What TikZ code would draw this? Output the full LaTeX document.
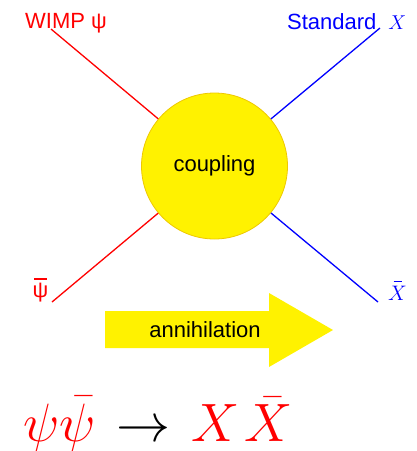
\RequirePackage{fix-cm}
\documentclass[tikz,border=0pt]{standalone}
\usepackage[no-math]{fontspec}
\newfontfamily\hv{Liberation Sans}
\definecolor{gold}{RGB}{238,200,0}
\newcommand\barover[3]{\vbox{\offinterlineskip\halign{\hss##\hss\cr\rule{#1}{#2}\cr\noalign{\kern4pt}#3\cr}}}
\tikzset{
  redline/.style={draw=red, line width=1.3pt},
  blueline/.style={draw=blue, line width=1.3pt},
  lbl/.style={inner sep=0pt, font=\hv\fontsize{22}{26}\selectfont},
}
\begin{document}
\begin{tikzpicture}[x=1pt,y=-1pt]
\useasboundingbox (0,0) rectangle (417,451);
\coordinate (c) at (214.5,166);
\coordinate (ul) at (51,29);
\coordinate (ll) at (52,302);
\coordinate (ur) at (380,28);
\coordinate (lr) at (378,302);
\draw[redline] (ul) -- (c);
\draw[redline] (ll) -- (c);
\draw[blueline] (ur) -- (c);
\draw[blueline] (lr) -- (c);
\node[circle, fill=yellow, draw=gold, line width=0.8pt, minimum size=146pt, inner sep=0pt, font=\hv\fontsize{22}{26}\selectfont] (coup) at (c) {coupling};
\node[lbl, text=red, anchor=base west] (wimp) at (25,28) {WIMP ψ};
\node[lbl, text=blue, anchor=base west] (std) at (287,29.5) {Standard\hspace{12pt}\fontsize{20}{22}\selectfont$X$};
\node[lbl, text=red] (psibar) at (40.5,290) {\barover{13pt}{2pt}{ψ}};
\node[lbl, text=blue, font=\fontsize{21}{24}\selectfont] (xbar) at (397.5,291) {\barover{8pt}{1.3pt}{$X$}};
\fill[yellow] (105,311) -- (269,311) -- (269,293) -- (333,330) -- (269,367) -- (269,348) -- (105,348) -- cycle;
\node[lbl] (ann) at (205,330) {annihilation};
\node[inner sep=0pt, anchor=base west, font=\fontsize{54}{60}\selectfont] (eq) at (23,441) {$\color{red}\psi\bar\psi\mkern2mu \color{black}\to\mkern2mu \color{red}X\mkern1.5mu\bar X$};
\end{tikzpicture}
\end{document}
